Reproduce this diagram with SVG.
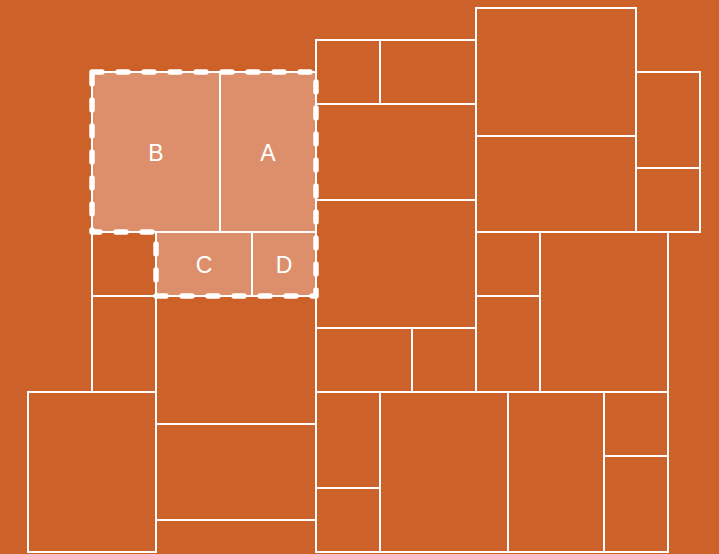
<svg xmlns="http://www.w3.org/2000/svg" width="719" height="554" viewBox="0 0 719 554">
<style>
.r{fill:none;stroke:#fff;stroke-width:2}
.h{fill:#DD8F6B;stroke:#fff;stroke-width:2}
.t{fill:#fff;font-family:"Liberation Sans",Arial,sans-serif;font-size:23px;text-anchor:middle;dominant-baseline:central}
.sel{fill:none;stroke:#fff;stroke-width:5.5;stroke-dasharray:10 16;stroke-linecap:round;stroke-linejoin:round}
</style>
<rect width="719" height="554" fill="#CD612A"/>
<g id="rooms">
<rect class="r" x="316" y="40" width="64" height="64"/>
<rect class="r" x="380" y="40" width="96" height="64"/>
<rect class="r" x="316" y="104" width="160" height="96"/>
<rect class="r" x="316" y="200" width="160" height="128"/>
<rect class="r" x="316" y="328" width="96" height="64"/>
<rect class="r" x="412" y="328" width="64" height="64"/>
<rect class="r" x="476" y="8" width="160" height="128"/>
<rect class="r" x="476" y="136" width="160" height="96"/>
<rect class="r" x="636" y="72" width="64" height="96"/>
<rect class="r" x="636" y="168" width="64" height="64"/>
<rect class="r" x="476" y="232" width="64" height="64"/>
<rect class="r" x="476" y="296" width="64" height="96"/>
<rect class="r" x="540" y="232" width="128" height="160"/>
<rect class="r" x="316" y="392" width="64" height="96"/>
<rect class="r" x="316" y="488" width="64" height="64"/>
<rect class="r" x="380" y="392" width="128" height="160"/>
<rect class="r" x="508" y="392" width="96" height="160"/>
<rect class="r" x="604" y="392" width="64" height="64"/>
<rect class="r" x="604" y="456" width="64" height="96"/>
<rect class="r" x="92" y="232" width="64" height="64"/>
<rect class="r" x="92" y="296" width="64" height="96"/>
<rect class="r" x="156" y="296" width="160" height="128"/>
<rect class="r" x="156" y="424" width="160" height="96"/>
<rect class="r" x="28" y="392" width="128" height="160"/>
</g>
<g id="B"><rect class="h" x="92" y="72" width="128" height="160"/><text class="t" x="156" y="153">B</text></g>
<g id="A"><rect class="h" x="220" y="72" width="96" height="160"/><text class="t" x="268" y="153">A</text></g>
<g id="C"><rect class="h" x="156" y="232" width="96" height="64"/><text class="t" x="204" y="265">C</text></g>
<g id="D"><rect class="h" x="252" y="232" width="64" height="64"/><text class="t" x="284" y="265">D</text></g>
<g id="selection"><path class="sel" d="M92,72 H316 V296 H156 V232 H92 Z"/></g>
</svg>
